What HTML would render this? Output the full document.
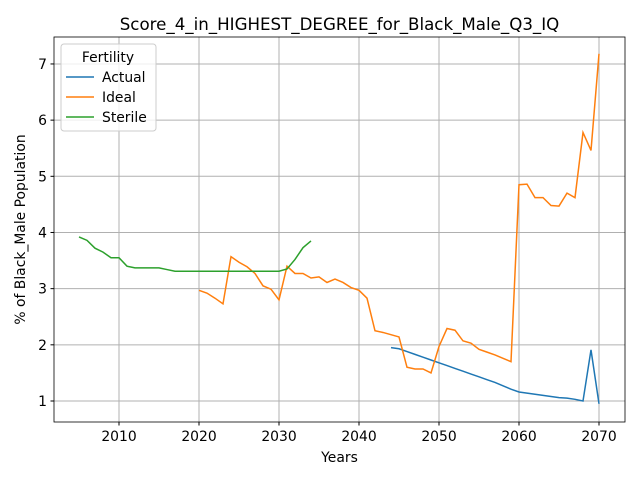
<!DOCTYPE html>
<html><head><meta charset="utf-8"><style>body{margin:0;background:#fff}svg{font-family:"DejaVu Sans","Liberation Sans",sans-serif}</style></head>
<body>
<svg id="chart" width="640" height="480" xmlns="http://www.w3.org/2000/svg"></svg>
<script>
const sterileYears=[2005,2006,2007,2008,2009,2010,2011,2012,2013,2014,2015,2016,2017,2018,2019,2020,2021,2022,2023,2024,2025,2026,2027,2028,2029,2030,2031,2032,2033,2034];
const sterileVals=[3.92,3.86,3.72,3.65,3.55,3.55,3.40,3.37,3.37,3.37,3.37,3.34,3.31,3.31,3.31,3.31,3.31,3.31,3.31,3.31,3.31,3.31,3.31,3.31,3.31,3.31,3.35,3.52,3.73,3.85];
const idealYears=[];for(let y=2020;y<=2070;y++)idealYears.push(y);
const idealVals=[2.97,2.92,2.83,2.73,3.57,3.47,3.39,3.27,3.05,2.99,2.80,3.40,3.27,3.27,3.19,3.21,3.11,3.17,3.11,3.02,2.97,2.83,2.25,2.22,2.18,2.14,1.60,1.57,1.57,1.50,1.97,2.29,2.26,2.07,2.03,1.92,1.87,1.82,1.76,1.70,4.85,4.86,4.62,4.62,4.48,4.47,4.70,4.62,5.78,5.46,7.18];
const actualYears=[];for(let y=2044;y<=2070;y++)actualYears.push(y);
const actualVals=[1.95,1.93,1.88,1.83,1.78,1.73,1.68,1.63,1.58,1.53,1.48,1.43,1.38,1.33,1.27,1.21,1.16,1.14,1.12,1.10,1.08,1.06,1.05,1.03,1.00,1.91,0.95];
const xTicks=[2010,2020,2030,2040,2050,2060,2070];
const yTicks=[1,2,3,4,5,6,7];
const L=54,R=625,T=37,B=422,x0=2001.875,x1=2073.25,y0=0.626,y1=7.48;
const X=v=>L+(v-x0)/(x1-x0)*(R-L), Y=v=>B-(v-y0)/(y1-y0)*(B-T);
const svg=document.getElementById('chart');const NS='http://www.w3.org/2000/svg';
function mk(t,a,p){const e=document.createElementNS(NS,t);for(const k in a)e.setAttribute(k,a[k]);(p||svg).appendChild(e);return e;}
for(const t of xTicks){const g=mk('line',{x1:X(t),x2:X(t),y1:T,y2:B,stroke:'#b0b0b0','stroke-width':1});

mk('line',{x1:X(t),x2:X(t),y1:B,y2:B+3.5,stroke:'#000'});
const tx=mk('text',{x:X(t),y:B+19,'font-size':13.9,'text-anchor':'middle'});tx.textContent=t;
}
for(const t of yTicks){const g=mk('line',{x1:L,x2:R,y1:Y(t),y2:Y(t),stroke:'#b0b0b0','stroke-width':1});

mk('line',{x1:L-3.5,x2:L,y1:Y(t),y2:Y(t),stroke:'#000'});
const tx=mk('text',{x:L-7,y:Y(t)+5,'font-size':13.9,'text-anchor':'end'});tx.textContent=t;
}
function series(xs,vs,c,name){const p=mk('polyline',{points:xs.map((x,i)=>X(x)+','+Y(vs[i])).join(' '),fill:'none',stroke:c,'stroke-width':1.5});
}
series(actualYears,actualVals,'#1f77b4','actual-line');
series(idealYears,idealVals,'#ff7f0e','ideal-line');
series(sterileYears,sterileVals,'#2ca02c','sterile-line');
const fr=mk('rect',{x:L,y:T,width:R-L,height:B-T,fill:'none',stroke:'#000','stroke-width':0.8});

const ti=mk('text',{x:(L+R)/2,y:30,'font-size':16.67,'text-anchor':'middle'});ti.textContent='Score_4_in_HIGHEST_DEGREE_for_Black_Male_Q3_IQ';

const xl=mk('text',{x:(L+R)/2,y:462,'font-size':13.9,'text-anchor':'middle'});xl.textContent='Years';

const yl=mk('text',{x:25,y:(T+B)/2,'font-size':13.9,'text-anchor':'middle',transform:'rotate(-90 25 '+(T+B)/2+')'});yl.textContent='% of Black_Male Population';

const lg=mk('g',{});
mk('rect',{x:61,y:44,width:95,height:87,rx:3,fill:'#fff','fill-opacity':0.8,stroke:'#ccc'},lg);
const lt=mk('text',{x:108,y:62,'font-size':13.9,'text-anchor':'middle'},lg);lt.textContent='Fertility';
const ents=[['Actual','#1f77b4'],['Ideal','#ff7f0e'],['Sterile','#2ca02c']];
ents.forEach((e,i)=>{const y=77+i*20;const g=mk('g',{},lg);
mk('line',{x1:66,x2:94,y1:y,y2:y,stroke:e[1],'stroke-width':1.5},g);
const t=mk('text',{x:102,y:y+5,'font-size':13.9},g);t.textContent=e[0];});
</script>
</body></html>
